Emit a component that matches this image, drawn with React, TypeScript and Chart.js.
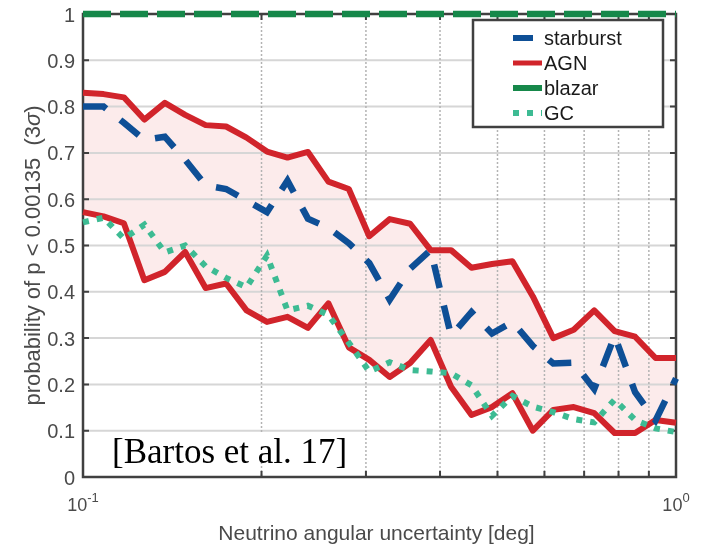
import { useEffect, useRef } from 'react';
import { Chart, registerables } from 'chart.js';

Chart.register(...registerables);

// ---- data ----
const xValues = [
  0.1, 0.1083, 0.1172, 0.1269, 0.1374, 0.1487, 0.161, 0.1743, 0.1887, 0.2043,
  0.2212, 0.2395, 0.2593, 0.2807, 0.3039, 0.329, 0.3562, 0.3857, 0.4175, 0.452,
  0.4894, 0.5298, 0.5736, 0.621, 0.6723, 0.7279, 0.788, 0.8532, 0.9237, 1.0,
];
const starburst = [
  0.8, 0.8, 0.765, 0.728, 0.735, 0.685, 0.63, 0.622, 0.597, 0.572,
  0.64, 0.558, 0.538, 0.505, 0.462, 0.383, 0.45, 0.49, 0.305, 0.356,
  0.31, 0.335, 0.283, 0.245, 0.247, 0.19, 0.305, 0.183, 0.122, 0.213,
];
const agnUpper = [
  0.83, 0.827, 0.82, 0.772, 0.808, 0.782, 0.76, 0.757, 0.733, 0.703,
  0.69, 0.702, 0.638, 0.622, 0.52, 0.557, 0.547, 0.49, 0.49, 0.452,
  0.46, 0.466, 0.39, 0.3, 0.318, 0.36, 0.315, 0.303, 0.257, 0.257,
];
const agnLower = [
  0.572, 0.563, 0.548, 0.425, 0.443, 0.486, 0.408, 0.418, 0.36, 0.335,
  0.346, 0.322, 0.375, 0.28, 0.253, 0.216, 0.246, 0.296, 0.195, 0.134,
  0.151, 0.181, 0.1, 0.145, 0.151, 0.138, 0.095, 0.095, 0.123, 0.117,
];
const blazar = [
  1, 1, 1, 1, 1, 1, 1, 1, 1, 1,
  1, 1, 1, 1, 1, 1, 1, 1, 1, 1,
  1, 1, 1, 1, 1, 1, 1, 1, 1, 1,
];
const gc = [
  0.55, 0.56, 0.515, 0.545, 0.485, 0.5, 0.455, 0.43, 0.41, 0.478,
  0.36, 0.37, 0.35, 0.29, 0.228, 0.248, 0.231, 0.228, 0.224, 0.198,
  0.132, 0.175, 0.152, 0.14, 0.125, 0.118, 0.167, 0.123, 0.105, 0.097,
];

const legendLabels = ['starburst', 'AGN', 'blazar', 'GC'];
const yTickValues = [0, 0.1, 0.2, 0.3, 0.4, 0.5, 0.6, 0.7, 0.8, 0.9, 1];
const yTickLabels = ['0', '0.1', '0.2', '0.3', '0.4', '0.5', '0.6', '0.7', '0.8', '0.9', '1'];
const xMajorTicks = [0.1, 1];
const xMajorBase = ['10', '10'];
const xMajorExp = ['-1', '0'];
const xMinorTicks = [0.2, 0.3, 0.4, 0.5, 0.6, 0.7, 0.8, 0.9];
const xTitle = 'Neutrino angular uncertainty [deg]';
const yTitle = 'probability of p < 0.00135  (3σ)';
const citation = '[Bartos et al. 17]';

// ---- styles ----
const C_STAR = '#0e4f96';
const C_AGN = '#d1242b';
const C_BLAZAR = '#16884a';
const C_GC = '#3dbb93';
const C_AXIS = '#404040';
const C_TEXT = '#4a4a4a';
const SANS = '"Liberation Sans", Arial, Helvetica, sans-serif';
const SERIF = '"Liberation Serif", "Times New Roman", serif';

const pts = (ys: number[]) => ys.map((y, i) => ({ x: xValues[i], y }));

const matlabPlugin = {
  id: 'matlabStyle',
  beforeDraw(chart: any) {
    const { ctx, width, height } = chart;
    ctx.save();
    ctx.fillStyle = '#ffffff';
    ctx.fillRect(0, 0, width, height);
    ctx.restore();
  },
  beforeDatasetsDraw(chart: any) {
    const { ctx, chartArea: a, scales } = chart;
    const xs = scales.x;
    const ys = scales.y;
    ctx.save();
    // horizontal grid
    ctx.strokeStyle = '#d6d6d6';
    ctx.lineWidth = 2;
    yTickValues.forEach((v) => {
      if (v <= 0 || v >= 1) return;
      const py = ys.getPixelForValue(v);
      ctx.beginPath();
      ctx.moveTo(a.left, py);
      ctx.lineTo(a.right, py);
      ctx.stroke();
    });
    // vertical dotted grid
    ctx.strokeStyle = '#b3b3b3';
    ctx.lineWidth = 1.5;
    ctx.setLineDash([2, 2]);
    xMinorTicks.forEach((v) => {
      const px = xs.getPixelForValue(v);
      ctx.beginPath();
      ctx.moveTo(px, a.top);
      ctx.lineTo(px, a.bottom);
      ctx.stroke();
    });
    ctx.setLineDash([]);
    // axes box
    ctx.strokeStyle = C_AXIS;
    ctx.lineWidth = 2.5;
    ctx.strokeRect(a.left, a.top, a.right - a.left, a.bottom - a.top);
    // ticks
    ctx.lineWidth = 2;
    yTickValues.forEach((v) => {
      const py = ys.getPixelForValue(v);
      ctx.beginPath();
      ctx.moveTo(a.left, py);
      ctx.lineTo(a.left + 6, py);
      ctx.moveTo(a.right, py);
      ctx.lineTo(a.right - 6, py);
      ctx.stroke();
    });
    xMinorTicks.forEach((v) => {
      const px = xs.getPixelForValue(v);
      ctx.beginPath();
      ctx.moveTo(px, a.bottom);
      ctx.lineTo(px, a.bottom - 6);
      ctx.moveTo(px, a.top);
      ctx.lineTo(px, a.top + 6);
      ctx.stroke();
    });
    ctx.restore();
  },
  afterDraw(chart: any) {
    const { ctx, chartArea: a, scales } = chart;
    const xs = scales.x;
    const ys = scales.y;
    ctx.save();
    // y tick labels
    ctx.fillStyle = C_TEXT;
    ctx.font = `20px ${SANS}`;
    ctx.textAlign = 'right';
    ctx.textBaseline = 'middle';
    yTickValues.forEach((v, i) => {
      ctx.fillText(yTickLabels[i], a.left - 8, ys.getPixelForValue(v) + 2);
    });
    // x tick labels (10 with superscript)
    ctx.textAlign = 'left';
    ctx.textBaseline = 'alphabetic';
    xMajorTicks.forEach((v, i) => {
      const px = xs.getPixelForValue(v);
      ctx.font = `18px ${SANS}`;
      const wb = ctx.measureText(xMajorBase[i]).width;
      ctx.font = `13px ${SANS}`;
      const we = ctx.measureText(xMajorExp[i]).width;
      const start = px - (wb + we) / 2;
      ctx.font = `18px ${SANS}`;
      ctx.fillText(xMajorBase[i], start, a.bottom + 34);
      ctx.font = `13px ${SANS}`;
      ctx.fillText(xMajorExp[i], start + wb, a.bottom + 25);
    });
    // x title
    ctx.font = `21px ${SANS}`;
    ctx.textAlign = 'center';
    ctx.fillText(xTitle, (a.left + a.right) / 2 - 3, a.bottom + 63);
    // y title with italic sigma
    const parts = yTitle.split('σ');
    const segs = [
      { t: parts[0], f: `22px ${SANS}` },
      { t: 'σ', f: `italic 22px ${SANS}` },
      { t: parts[1], f: `22px ${SANS}` },
    ];
    let total = 0;
    segs.forEach((s) => {
      ctx.font = s.f;
      total += ctx.measureText(s.t).width;
    });
    ctx.translate(34, (a.top + a.bottom) / 2 + 10);
    ctx.rotate(-Math.PI / 2);
    ctx.textAlign = 'left';
    ctx.textBaseline = 'middle';
    let cx = -total / 2;
    segs.forEach((s) => {
      ctx.font = s.f;
      ctx.fillText(s.t, cx, 0);
      cx += ctx.measureText(s.t).width;
    });
    ctx.restore();

    // citation box
    ctx.save();
    ctx.fillStyle = '#ffffff';
    ctx.fillRect(a.left + 25, ys.getPixelForValue(0.095), 254, 28);
    ctx.fillStyle = '#000000';
    ctx.font = `35px ${SERIF}`;
    ctx.textAlign = 'left';
    ctx.textBaseline = 'alphabetic';
    ctx.fillText(citation, a.left + 29, a.bottom - 14);
    ctx.restore();

    // legend
    ctx.save();
    const lx = 473;
    const ly = 20;
    const lw = 190;
    const lh = 107;
    ctx.fillStyle = '#ffffff';
    ctx.fillRect(lx, ly, lw, lh);
    ctx.strokeStyle = C_AXIS;
    ctx.lineWidth = 2.5;
    ctx.strokeRect(lx, ly, lw, lh);
    const sampleStyles = [
      { c: C_STAR, w: 6, dash: [20, 20] },
      { c: C_AGN, w: 5, dash: [] },
      { c: C_BLAZAR, w: 6, dash: [] },
      { c: C_GC, w: 6, dash: [6, 8] },
    ];
    legendLabels.forEach((lab, i) => {
      const yy = ly + 18 + i * 25;
      const st = sampleStyles[i];
      ctx.strokeStyle = st.c;
      ctx.lineWidth = st.w;
      ctx.lineCap = 'butt';
      ctx.setLineDash(st.dash);
      ctx.beginPath();
      ctx.moveTo(lx + 40, yy);
      ctx.lineTo(lx + 69, yy);
      ctx.stroke();
      ctx.setLineDash([]);
      ctx.fillStyle = '#1a1a1a';
      ctx.font = `20px ${SANS}`;
      ctx.textAlign = 'left';
      ctx.textBaseline = 'middle';
      ctx.fillText(lab, lx + 71, yy + 1);
    });
    ctx.restore();
  },
};

export default function App() {
  const canvasRef = useRef<HTMLCanvasElement | null>(null);

  useEffect(() => {
    if (!canvasRef.current) return;
    const lineBase = { pointRadius: 0, tension: 0, clip: false as any, borderCapStyle: 'butt' as const };
    const chart = new Chart(canvasRef.current, {
      type: 'line',
      data: {
        datasets: [
          { ...lineBase, label: 'GC', data: pts(gc), borderColor: C_GC, borderWidth: 6, borderDash: [6, 8], fill: false },
          { ...lineBase, label: 'starburst', data: pts(starburst), borderColor: C_STAR, borderWidth: 6.5, borderDash: [24, 18], fill: false, borderJoinStyle: 'miter' },
          { ...lineBase, label: 'AGN', data: pts(agnUpper), borderColor: C_AGN, borderWidth: 6, fill: false, borderJoinStyle: 'round' },
          { ...lineBase, label: 'AGN lower', data: pts(agnLower), borderColor: C_AGN, borderWidth: 6, fill: '-1', backgroundColor: 'rgba(232,70,70,0.11)', borderJoinStyle: 'round' },
          { ...lineBase, label: 'blazar', data: pts(blazar), borderColor: C_BLAZAR, borderWidth: 6.5, borderDash: [28, 9], fill: false },
        ] as any,
      },
      options: {
        responsive: false,
        animation: false,
        devicePixelRatio: 1,
        parsing: true,
        layout: { padding: { left: 83, right: 26, top: 14, bottom: 69 } },
        scales: {
          x: { type: 'logarithmic', min: 0.1, max: 1, display: false },
          y: { type: 'linear', min: 0, max: 1, display: false },
        },
        plugins: {
          legend: { display: false },
          tooltip: { enabled: false },
          filler: { drawTime: 'beforeDatasetsDraw' } as any,
        },
        events: [],
      },
      plugins: [matlabPlugin],
    });
    return () => chart.destroy();
  }, []);

  return (
    <div style={{ position: 'absolute', left: 0, top: 0, width: 702, height: 546, background: '#fff' }}>
      <canvas ref={canvasRef} width={702} height={546} style={{ display: 'block', width: 702, height: 546 }} />
    </div>
  );
}
